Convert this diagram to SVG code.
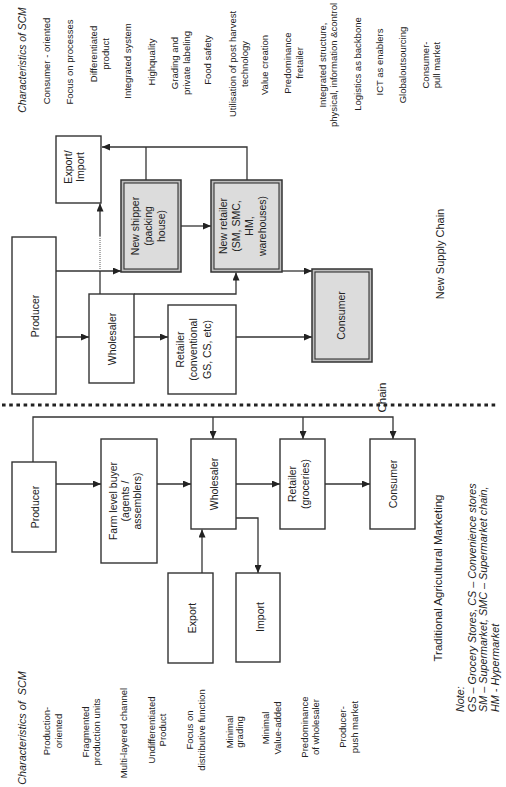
<svg xmlns="http://www.w3.org/2000/svg" width="506" height="787" viewBox="0 0 506 787">
<style>
text{font-family:"Liberation Sans",Arial,sans-serif;fill:#222;}
.c{font-size:9.5px;text-anchor:middle;}
.t{font-size:10.3px;font-style:italic;text-anchor:middle;}
.n{font-size:10.5px;text-anchor:middle;}
.s{font-size:11px;text-anchor:middle;}
.note{font-size:10.8px;font-style:italic;text-anchor:start;}
.box{fill:#fff;stroke:#333;stroke-width:1.4;}
.gout{fill:#bdbdbd;stroke:#333;stroke-width:1.5;}
.gin{fill:#dcdcdc;stroke:#333;stroke-width:1.1;}
.ln{fill:none;stroke:#333;stroke-width:1.3;}
.arr{fill:none;stroke:#333;stroke-width:1.3;marker-end:url(#ah);}
</style>
<defs>
<marker id="ah" markerUnits="userSpaceOnUse" markerWidth="9" markerHeight="7" refX="8" refY="3.5" orient="auto">
<path d="M0,0 L8,3.5 L0,7 z" fill="#222"/>
</marker>
</defs>

<g id="separator">
<line x1="2" y1="405" x2="498" y2="405" stroke="#222" stroke-width="3.2" stroke-dasharray="3.6 3.6"/>
</g>

<g id="characteristics-top">
<text class="t" transform="translate(0,60) rotate(-90)"><tspan x="0" y="26.4">Characteristics of SCM</tspan></text>
<text class="c" transform="translate(0,61) rotate(-90)"><tspan x="0" y="50.1">Consumer - oriented</tspan></text>
<text class="c" transform="translate(0,62) rotate(-90)"><tspan x="0" y="73.1">Focus on processes</tspan></text>
<text class="c" transform="translate(0,54) rotate(-90)"><tspan x="0" y="97.1">Differentiated</tspan><tspan x="0" y="109.1">product</tspan></text>
<text class="c" transform="translate(0,61) rotate(-90)"><tspan x="0" y="131.1">Integrated system</tspan></text>
<text class="c" transform="translate(0,62) rotate(-90)"><tspan x="0" y="155.1">Highquality</tspan></text>
<text class="c" transform="translate(0,63) rotate(-90)"><tspan x="0" y="178.1">Grading and</tspan><tspan x="0" y="190.1">private labeling</tspan></text>
<text class="c" transform="translate(0,60) rotate(-90)"><tspan x="0" y="211.1">Food safety</tspan></text>
<text class="c" transform="translate(0,64) rotate(-90)"><tspan x="0" y="236.1">Utilisation of post harvest</tspan><tspan x="0" y="248.1">technology</tspan></text>
<text class="c" transform="translate(0,65) rotate(-90)"><tspan x="0" y="268.1">Value creation</tspan></text>
<text class="c" transform="translate(0,63) rotate(-90)"><tspan x="0" y="291.1">Predominance</tspan><tspan x="0" y="303.1">fretailer</tspan></text>
<text class="c" transform="translate(0,65) rotate(-90)"><tspan x="0" y="326.1">Integrated structure,</tspan><tspan x="0" y="337.1">physical, information &amp;control</tspan></text>
<text class="c" transform="translate(0,64) rotate(-90)"><tspan x="0" y="361.1">Logistics as backbone</tspan></text>
<text class="c" transform="translate(0,62) rotate(-90)"><tspan x="0" y="383.1">ICT as enablers</tspan></text>
<text class="c" transform="translate(0,65) rotate(-90)"><tspan x="0" y="406.1">Globaloutsourcing</tspan></text>
<text class="c" transform="translate(0,65) rotate(-90)"><tspan x="0" y="429.1">Consumer-</tspan><tspan x="0" y="440.1">pull market</tspan></text>
</g>

<g id="characteristics-bottom">
<text class="t" style="font-size:10.8px" transform="translate(0,728) rotate(-90)"><tspan x="0" y="25.6">Characteristics of&#160; SCM</tspan></text>
<text class="c" transform="translate(0,731) rotate(-90)"><tspan x="0" y="50.1">Production-</tspan><tspan x="0" y="62.1">oriented</tspan></text>
<text class="c" transform="translate(0,732) rotate(-90)"><tspan x="0" y="89.1">Fragmented</tspan><tspan x="0" y="100.1">production units</tspan></text>
<text class="c" transform="translate(0,733) rotate(-90)"><tspan x="0" y="127.1">Multi-layered channel</tspan></text>
<text class="c" transform="translate(0,730) rotate(-90)"><tspan x="0" y="155.1">Undifferentiated</tspan><tspan x="0" y="166.1">Product</tspan></text>
<text class="c" transform="translate(0,730) rotate(-90)"><tspan x="0" y="193.1">Focus on</tspan><tspan x="0" y="205.1">distributive function</tspan></text>
<text class="c" transform="translate(0,732) rotate(-90)"><tspan x="0" y="233.1">Minimal</tspan><tspan x="0" y="243.1">grading</tspan></text>
<text class="c" transform="translate(0,728) rotate(-90)"><tspan x="0" y="269.1">Minimal</tspan><tspan x="0" y="281.1">Value-added</tspan></text>
<text class="c" transform="translate(0,727) rotate(-90)"><tspan x="0" y="308.1">Predominance</tspan><tspan x="0" y="319.1">of wholesaler</tspan></text>
<text class="c" transform="translate(0,727) rotate(-90)"><tspan x="0" y="346.1">Producer-</tspan><tspan x="0" y="358.1">push market</tspan></text>
</g>

<g id="connectors">
<!-- new supply chain -->
<polyline class="arr" points="247,180 247,147 102,147"/>
<line class="ln" x1="146" y1="180" x2="146" y2="147"/>
<line class="arr" x1="181" y1="226" x2="211" y2="226"/>
<line class="arr" x1="56" y1="271" x2="121" y2="271"/>
<line class="ln" x1="100" y1="294" x2="100" y2="271"/>
<line x1="100" y1="271" x2="100" y2="236" stroke="#777" stroke-width="1.2" stroke-dasharray="1 1"/>
<line class="arr" x1="100" y1="236" x2="100" y2="203.5"/>
<polyline class="arr" points="134,294 236,294 236,272.5"/>
<line class="arr" x1="56" y1="337" x2="89" y2="337"/>
<line class="arr" x1="134" y1="337" x2="168" y2="337"/>
<line class="arr" x1="236" y1="337" x2="312" y2="337"/>
<line class="arr" x1="282" y1="271" x2="312" y2="271"/>
<!-- traditional -->
<polyline class="arr" points="33,462 33,417 393,417 393,439"/>
<line class="arr" x1="213" y1="417" x2="213" y2="439"/>
<line class="arr" x1="303" y1="417" x2="303" y2="439"/>
<line class="arr" x1="56" y1="484" x2="101" y2="484"/>
<line class="arr" x1="157" y1="484" x2="191" y2="484"/>
<line class="arr" x1="236" y1="484" x2="280" y2="484"/>
<line class="arr" x1="325" y1="484" x2="370" y2="484"/>
<polyline class="arr" points="236,518 258,518 258,573"/>
<line class="arr" x1="202" y1="573" x2="202" y2="529.5"/>
</g>

<g id="export-import-new">
<rect class="box" x="56" y="136" width="45" height="67"/>
<text class="n" transform="translate(0,167) rotate(-90)"><tspan x="0" y="71.5">Export/</tspan><tspan x="0" y="83.5">Import</tspan></text>
</g>
<g id="new-shipper">
<rect class="gout" x="121" y="180" width="60" height="92"/>
<rect class="gin" x="124" y="183" width="54" height="86"/>
<text class="n" transform="translate(0,226) rotate(-90)"><tspan x="0" y="138.5">New shipper</tspan><tspan x="0" y="151.5">(packing</tspan><tspan x="0" y="164.5">house)</tspan></text>
</g>
<g id="new-retailer">
<rect class="gout" x="211" y="180" width="71" height="92"/>
<rect class="gin" x="214" y="183" width="65" height="86"/>
<text class="n" transform="translate(0,226) rotate(-90)"><tspan x="0" y="226.5">New retailer</tspan><tspan x="0" y="239.5">(SM, SMC,</tspan><tspan x="0" y="252.5">HM,</tspan><tspan x="0" y="265.5">warehouses)</tspan></text>
</g>
<g id="producer-new">
<rect class="box" x="12" y="237" width="44" height="157"/>
<text class="n" transform="translate(0,316) rotate(-90)"><tspan x="0" y="38.5">Producer</tspan></text>
</g>
<g id="wholesaler-new">
<rect class="box" x="89" y="294" width="45" height="89"/>
<text class="n" transform="translate(0,339) rotate(-90)"><tspan x="0" y="116">Wholesaler</tspan></text>
</g>
<g id="retailer-conventional">
<rect class="box" x="168" y="305" width="68" height="89"/>
<text class="n" transform="translate(0,349.5) rotate(-90)"><tspan x="0" y="183.5">Retailer</tspan><tspan x="0" y="196.5">(conventional</tspan><tspan x="0" y="210.5">GS, CS, etc)</tspan></text>
</g>
<g id="consumer-new">
<rect class="gout" x="312" y="269" width="60" height="93"/>
<rect class="gin" x="315" y="272" width="54" height="87"/>
<text class="n" transform="translate(0,315.5) rotate(-90)"><tspan x="0" y="344.5">Consumer</tspan></text>
</g>

<g id="producer-trad">
<rect class="box" x="12" y="462" width="44" height="90"/>
<text class="n" transform="translate(0,507) rotate(-90)"><tspan x="0" y="39">Producer</tspan></text>
</g>
<g id="farm-level-buyer">
<rect class="box" x="101" y="439" width="56" height="124"/>
<text class="n" transform="translate(0,501) rotate(-90)"><tspan x="0" y="116.5">Farm level buyer</tspan><tspan x="0" y="128.5">(agents /</tspan><tspan x="0" y="140.5">assemblers)</tspan></text>
</g>
<g id="wholesaler-trad">
<rect class="box" x="191" y="439" width="45" height="90"/>
<text class="n" transform="translate(0,484) rotate(-90)"><tspan x="0" y="218">Wholesaler</tspan></text>
</g>
<g id="retailer-groceries">
<rect class="box" x="280" y="439" width="45" height="90"/>
<text class="n" transform="translate(0,484) rotate(-90)"><tspan x="0" y="295.5">Retailer</tspan><tspan x="0" y="308.5">(groceries)</tspan></text>
</g>
<g id="consumer-trad">
<rect class="box" x="370" y="439" width="45" height="90"/>
<text class="n" transform="translate(0,484) rotate(-90)"><tspan x="0" y="397">Consumer</tspan></text>
</g>
<g id="export">
<rect class="box" x="168" y="573" width="45" height="90"/>
<text class="n" transform="translate(0,618) rotate(-90)"><tspan x="0" y="195.5">Export</tspan></text>
</g>
<g id="import">
<rect class="box" x="236" y="573" width="44" height="89"/>
<text class="n" transform="translate(0,617) rotate(-90)"><tspan x="0" y="263.5">Import</tspan></text>
</g>

<g id="labels">
<text class="s" transform="translate(0,254) rotate(-90)"><tspan x="0" y="443.6">New Supply Chain</tspan></text>
<text class="s" style="font-size:11.5px" transform="translate(0,397.5) rotate(-90)"><tspan x="0" y="385.8">Chain</tspan></text>
<text class="s" style="font-size:11.5px" transform="translate(0,578) rotate(-90)"><tspan x="0" y="441.8">Traditional Agricultural Marketing</tspan></text>
<text class="note" transform="translate(0,712) rotate(-90)"><tspan x="0" y="464">Note:</tspan><tspan x="0" y="475.5">GS – Grocery Stores, CS – Convenience stores</tspan><tspan x="0" y="487">SM – Supermarket, SMC – Supermarket chain,</tspan><tspan x="0" y="498.5">HM - Hypermarket</tspan></text>
</g>
</svg>
